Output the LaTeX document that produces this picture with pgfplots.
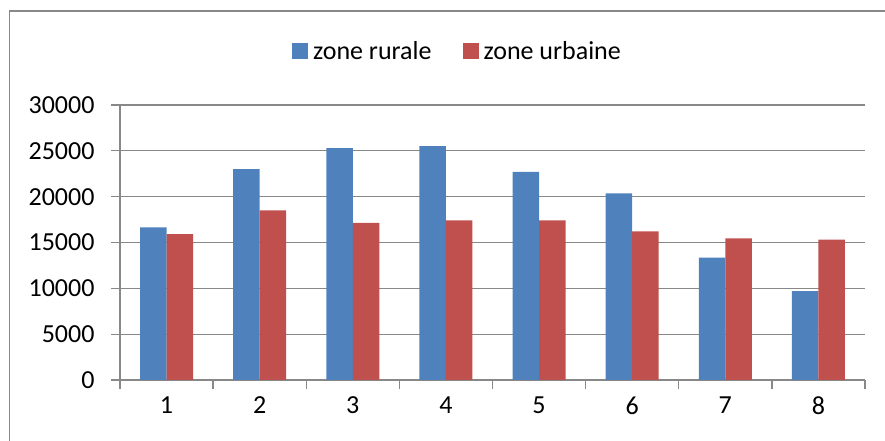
\documentclass[border=0pt]{standalone}
\usepackage{pgfplots}
\pgfplotsset{compat=1.18}
\usepackage{fontspec}
\setmainfont{Carlito}
\definecolor{ruralblue}{HTML}{4F81BD}
\definecolor{urbanred}{HTML}{C0504D}
\definecolor{gridgray}{HTML}{888888}
\begin{document}
\begin{tikzpicture}[x=1bp,y=1bp]
\useasboundingbox (0,0) rectangle (885,441);
\draw[gridgray, line width=1.5bp] (9.5,-20) -- (9.5,430) -- (900,430);
\begin{axis}[
  at={(120bp,61bp)}, anchor=south west,
  width=745bp, height=275bp, scale only axis,
  xmin=0.5, xmax=8.5, ymin=0, ymax=30000,
  axis x line*=bottom, axis y line*=left,
  axis line style={gridgray, line width=1.3bp, -},
  xtick={0.5,1.5,...,8.5},
  x tick label as interval,
  xticklabels={1,2,3,4,5,6,7,8},
  ytick={0,5000,...,30000},
  scaled y ticks=false,
  ymajorgrids,
  grid style={gridgray, line width=1.3bp},
  tick style={gridgray, line width=1.3bp},
  tick align=outside,
  major tick length=9bp,
  /pgf/number format/assume math mode=true,
  /pgf/number format/set thousands separator={},
  /pgf/number format/fixed,
  ticklabel style={font=\fontsize{26bp}{30bp}\selectfont, text=black},
  xticklabel style={yshift=-4bp},
  yticklabel style={xshift=-13bp},
  ybar, bar width=0.285,
  legend columns=2,
  legend style={draw=none, fill=none, at={(0.455,1.195)}, anchor=center,
    font=\fontsize{26bp}{30bp}\selectfont,
    /tikz/every even column/.append style={column sep=26bp},
    nodes={inner xsep=5bp, inner ysep=2bp}},
  legend image code/.code={\fill[#1, draw=none] (0bp,-8bp) rectangle (16bp,8bp);},
]
\addplot[fill=ruralblue, draw=none, bar shift=-0.1425] coordinates {
 (1,16650) (2,23000) (3,25300) (4,25500) (5,22700) (6,20350) (7,13350) (8,9700)};
\addplot[fill=urbanred, draw=none, bar shift=0.1425] coordinates {
 (1,15900) (2,18500) (3,17150) (4,17400) (5,17400) (6,16200) (7,15450) (8,15300)};
\legend{zone rurale, zone urbaine}
\end{axis}
\end{tikzpicture}
\end{document}
